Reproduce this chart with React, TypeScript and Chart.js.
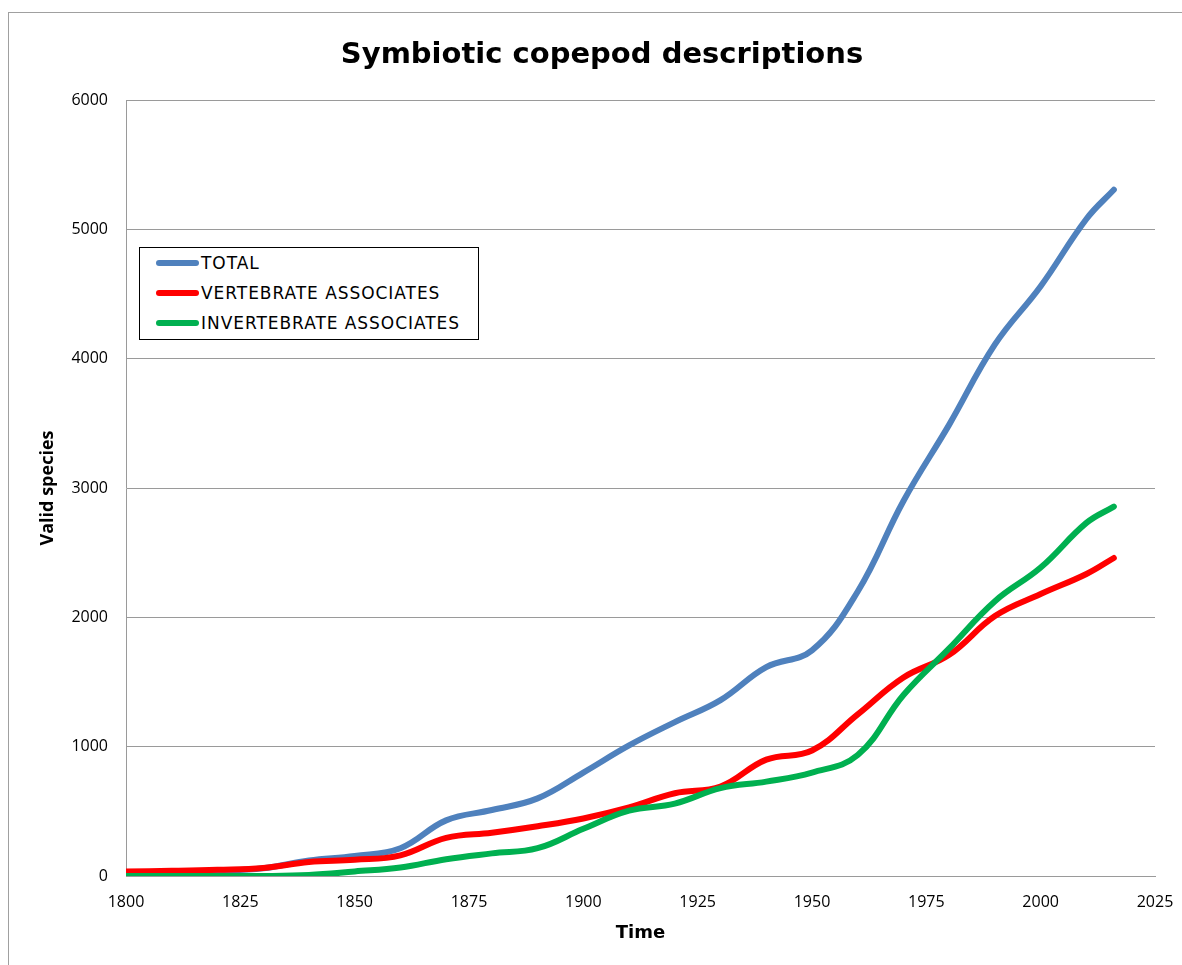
import React, { useEffect, useRef } from "react";
import { Chart, registerables } from "chart.js";

Chart.register(...registerables);

const TITLE = "Symbiotic copepod descriptions";
const X_TITLE = "Time";
const Y_TITLE = "Valid species";

const years = [1800, 1810, 1820, 1830, 1840, 1850, 1860, 1870, 1880, 1890, 1900, 1910, 1920, 1930, 1940, 1950, 1960, 1970, 1980, 1990, 2000, 2010, 2016];

const totalValues = [25, 30, 40, 60, 120, 155, 215, 430, 510, 600, 800, 1010, 1190, 1360, 1615, 1745, 2200, 2900, 3490, 4110, 4560, 5080, 5306];
const vertebrateValues = [35, 40, 48, 62, 108, 125, 160, 295, 335, 385, 445, 530, 640, 692, 900, 970, 1250, 1535, 1710, 2010, 2180, 2335, 2459];
const invertebrateValues = [0, 0, 0, 0, 8, 35, 65, 130, 175, 215, 365, 505, 560, 680, 730, 800, 935, 1400, 1760, 2125, 2385, 2730, 2856];

const seriesNames = ["TOTAL", "VERTEBRATE ASSOCIATES", "INVERTEBRATE ASSOCIATES"];
const seriesColors = ["#4F81BD", "#FF0000", "#00B050"];

const xTicks = [1800, 1825, 1850, 1875, 1900, 1925, 1950, 1975, 2000, 2025];
const yTicks = [0, 1000, 2000, 3000, 4000, 5000, 6000];

const toPoints = (vals: number[]) => years.map((y, i) => ({ x: y, y: vals[i] }));

export default function App() {
  const canvasRef = useRef<HTMLCanvasElement | null>(null);

  useEffect(() => {
    if (!canvasRef.current) return;
    const allValues = [totalValues, vertebrateValues, invertebrateValues];
    const chart = new Chart(canvasRef.current, {
      type: "line",
      data: {
        datasets: allValues.map((vals, i) => ({
          label: seriesNames[i],
          data: toPoints(vals),
          borderColor: seriesColors[i],
          backgroundColor: seriesColors[i],
          borderWidth: 6,
          pointRadius: 0,
          tension: 0.4,
          fill: false,
          borderCapStyle: "round" as const,
          borderJoinStyle: "round" as const,
          order: 3 - i,
        })),
      },
      options: {
        responsive: false,
        animation: false,
        layout: { padding: 0 },
        plugins: {
          legend: { display: false },
          tooltip: { enabled: false },
          title: {
            display: true,
            text: TITLE,
            color: "#000",
            font: { family: "'DejaVu Sans', sans-serif", size: 29, weight: "bold" },
            padding: { top: 37.6, bottom: 27.6 },
          },
        },
        scales: {
          x: {
            type: "linear",
            min: 1800,
            max: 2025,
            afterBuildTicks: (scale: any) => {
              scale.ticks = xTicks.map((v) => ({ value: v }));
            },
            ticks: {
              color: "#000",
              font: { family: "'Open Sans', sans-serif", size: 16 },
              padding: 17,
              maxRotation: 0,
              autoSkip: false,
              callback: (v: any) => String(v),
            },
            grid: { display: false, drawTicks: false },
            border: { display: true, color: "#9a9a9a", width: 1 },
            title: {
              display: true,
              text: X_TITLE,
              color: "#000",
              font: { family: "'DejaVu Sans', sans-serif", size: 18, weight: "bold" },
              padding: { top: 0, bottom: 21 },
            },
            afterFit: (scale: any) => {
              scale.height = 89;
              scale.paddingRight = 27;
            },
          },
          y: {
            type: "linear",
            min: 0,
            max: 6000,
            afterBuildTicks: (scale: any) => {
              scale.ticks = yTicks.map((v) => ({ value: v }));
            },
            ticks: {
              color: "#000",
              font: { family: "'Open Sans', sans-serif", size: 16 },
              padding: 18,
              callback: (v: any) => String(v),
            },
            grid: { display: true, color: "#9a9a9a", lineWidth: 1, drawTicks: false },
            border: { display: true, color: "#9a9a9a", width: 1 },
            title: {
              display: true,
              text: Y_TITLE,
              color: "#000",
              font: { family: "'Open Sans', sans-serif", size: 18, weight: "bold" },
              padding: { top: 15, bottom: 0 },
            },
            afterFit: (scale: any) => {
              scale.width = 104;
            },
          },
        },
      },
    });
    return () => chart.destroy();
  }, []);

  const legendCenters = [262.7, 292.7, 322.7];

  return (
    <div style={{ position: "fixed", left: 0, top: 0, width: 1182, height: 965, overflow: "hidden", background: "#fff" }}>
      <div
        style={{
          position: "absolute",
          left: 8,
          top: 12,
          width: 1300,
          height: 1100,
          border: "1px solid #a0a0a0",
          boxSizing: "border-box",
        }}
      />
      <canvas
        ref={canvasRef}
        width={1160}
        height={965}
        style={{ position: "absolute", left: 22, top: 0, width: 1160, height: 965 }}
      />
      <div
        style={{
          position: "absolute",
          left: 139,
          top: 247,
          width: 340,
          height: 93,
          border: "1px solid #000",
          boxSizing: "border-box",
          background: "#fff",
        }}
      />
      {seriesNames.map((name, i) => (
        <React.Fragment key={name}>
          <div
            style={{
              position: "absolute",
              left: 156,
              top: legendCenters[i] - 3,
              width: 43,
              height: 6,
              borderRadius: 3,
              background: seriesColors[i],
            }}
          />
          <div
            style={{
              position: "absolute",
              left: 201,
              top: legendCenters[i] - 10,
              height: 20,
              lineHeight: "20px",
              fontFamily: "'DejaVu Sans', sans-serif",
              fontSize: 17,
              letterSpacing: "0.95px",
              color: "#000",
              whiteSpace: "nowrap",
            }}
          >
            {name}
          </div>
        </React.Fragment>
      ))}
    </div>
  );
}
